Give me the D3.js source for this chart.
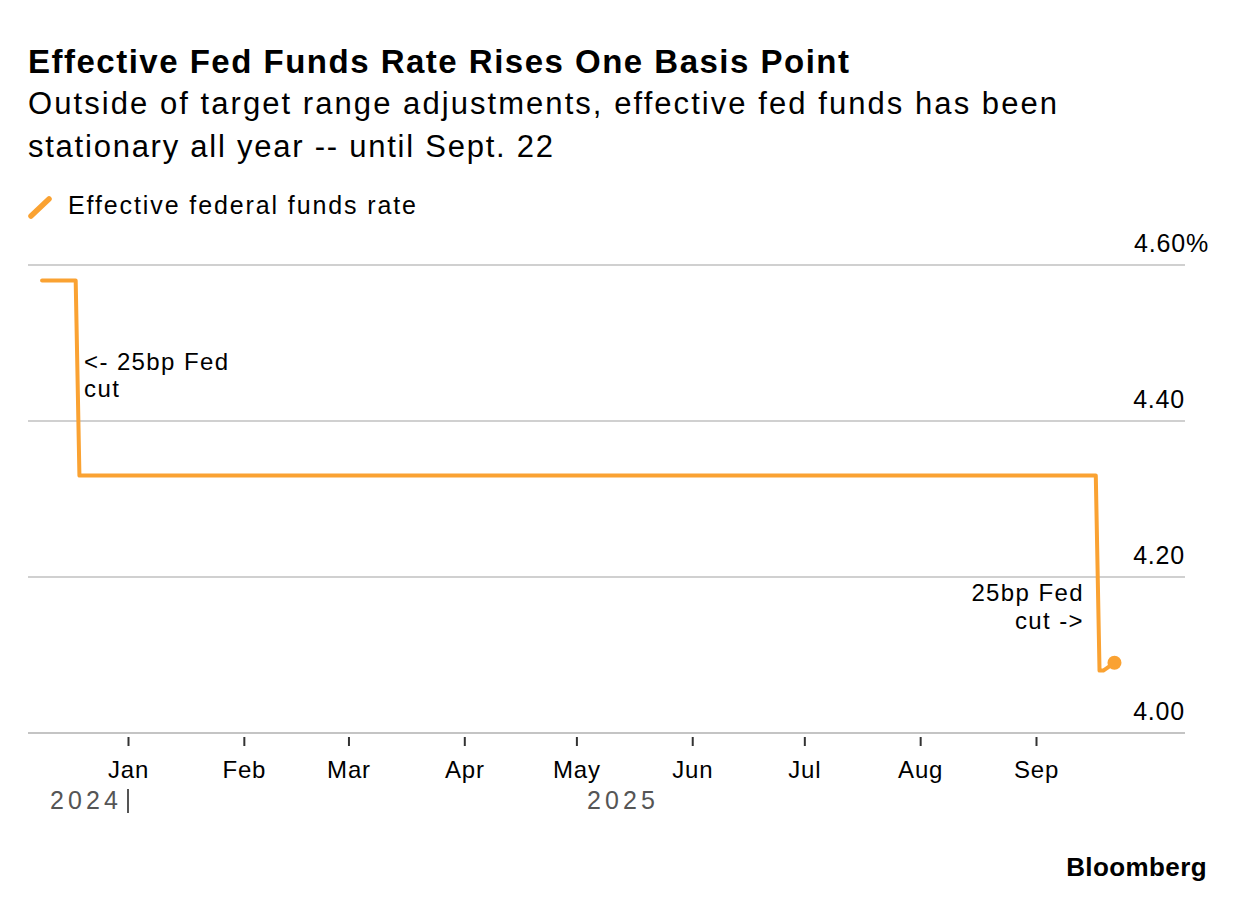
<!DOCTYPE html>
<html><head><meta charset="utf-8">
<script src="https://cdn.jsdelivr.net/npm/d3@7"></script>
<style>
html,body{margin:0;padding:0;background:#fff;}
svg text{font-family:"Liberation Sans",Arial,sans-serif;}
</style></head>
<body>
<svg id="chart" width="1237" height="910"></svg>
<script>
// ---- data ----
const dates = ["2024-12-09","2024-12-18","2024-12-19","2025-09-17","2025-09-18","2025-09-19","2025-09-22"];
const rates = [4.58, 4.58, 4.33, 4.33, 4.08, 4.08, 4.09];
const yTicks = [4.00, 4.20, 4.40, 4.60];
const monthTicks = ["2025-01-01","2025-02-01","2025-03-01","2025-04-01","2025-05-01","2025-06-01","2025-07-01","2025-08-01","2025-09-01"];
const yearLabels = ["2024", "2025"];
const seriesName = "Effective federal funds rate";
const title = "Effective Fed Funds Rate Rises One Basis Point";
const subtitle = ["Outside of target range adjustments, effective fed funds has been","stationary all year -- until Sept. 22"];

const parse = d3.utcParse("%Y-%m-%d");
const data = dates.map((d,i)=>({date:parse(d), v:rates[i]}));
const svg = d3.select("#chart");
const orange = "#faa232";

const pLeft = 28, pRight = 1185, pTop = 265, pBottom = 733;
const x = d3.scaleUtc().domain([parse("2025-01-01"), parse("2025-09-01")]).range([128, 1036]);
const y = d3.scaleLinear().domain([4.0, 4.6]).range([pBottom, pTop]);

// titles
svg.append("text").attr("x",28).attr("y",73).attr("font-size",33).attr("font-weight","bold").attr("fill","#000")
  .attr("textLength",821).attr("lengthAdjust","spacing").text(title);
const subW = [1029, 525];
subtitle.forEach((s,i)=>svg.append("text").attr("x",28).attr("y",114+i*43).attr("font-size",31).attr("fill","#000")
  .attr("textLength",subW[i]).attr("lengthAdjust","spacing").text(s));

// legend
svg.append("line").attr("x1",31).attr("y1",216).attr("x2",49).attr("y2",199).attr("stroke",orange).attr("stroke-width",5.5).attr("stroke-linecap","round");
svg.append("text").attr("x",68).attr("y",214).attr("font-size",25).attr("fill","#000")
  .attr("textLength",348).attr("lengthAdjust","spacing").text(seriesName);

// grid
const g = svg.append("g");
g.selectAll("line.grid").data(yTicks).join("line")
  .attr("x1",pLeft).attr("x2",pRight).attr("y1",d=>y(d)).attr("y2",d=>y(d))
  .attr("stroke",d=>d===4.0?"#c4c4c4":"#d0d0d0").attr("stroke-width",2);
g.selectAll("text.ylab").data(yTicks).join("text")
  .attr("x",d=>d===4.6?1209:1185).attr("y",d=>y(d)-13)
  .attr("text-anchor","end").attr("font-size",25).attr("letter-spacing",0.8).attr("fill","#000")
  .text(d=>d===4.6?d3.format(".2f")(d)+"%":d3.format(".2f")(d));

// x axis
const mt = monthTicks.map(parse);
const xa = svg.append("g").attr("transform",`translate(0,${pBottom})`)
  .call(d3.axisBottom(x).tickValues(mt).tickFormat(d3.utcFormat("%b")).tickSize(13).tickPadding(15));
xa.select(".domain").remove();
xa.selectAll(".tick line").attr("stroke","#333").attr("stroke-width",2).attr("y1",4);
xa.selectAll(".tick text").attr("font-size",24).attr("letter-spacing",0.8).attr("fill","#000").attr("font-family","Liberation Sans, Arial, sans-serif");

// year labels
const jan = x(parse("2025-01-01"));
svg.append("text").attr("x",50).attr("y",809).attr("font-size",25).attr("fill","#555").attr("textLength",68).attr("lengthAdjust","spacing").text(yearLabels[0]);
svg.append("line").attr("x1",jan).attr("x2",jan).attr("y1",789).attr("y2",813).attr("stroke","#555").attr("stroke-width",2);
svg.append("text").attr("x",587).attr("y",809).attr("font-size",25).attr("fill","#555").attr("textLength",68).attr("lengthAdjust","spacing").text(yearLabels[1]);

// line
const line = d3.line().x(d=>x(d.date)).y(d=>y(d.v));
svg.append("path").datum(data).attr("d",line).attr("fill","none").attr("stroke",orange).attr("stroke-width",4).attr("stroke-linejoin","round").attr("stroke-linecap","round");
const last = data[data.length-1];
svg.append("circle").attr("cx",x(last.date)).attr("cy",y(last.v)).attr("r",7).attr("fill",orange);

// annotations
const ann = (tx, ty, anchor, s, w) => svg.append("text").attr("x",tx).attr("y",ty).attr("text-anchor",anchor).attr("font-size",24).attr("letter-spacing",1.4).attr("fill","#000").text(s);
ann(84,370,"start","<- 25bp Fed");
ann(84,397,"start","cut");
ann(1084,601,"end","25bp Fed");
ann(1084,629,"end","cut ->");

// source
svg.append("text").attr("x",1207).attr("y",876).attr("text-anchor","end").attr("font-size",26).attr("font-weight","bold").attr("letter-spacing",0.4).attr("fill","#000").text("Bloomberg");
</script>
</body></html>
